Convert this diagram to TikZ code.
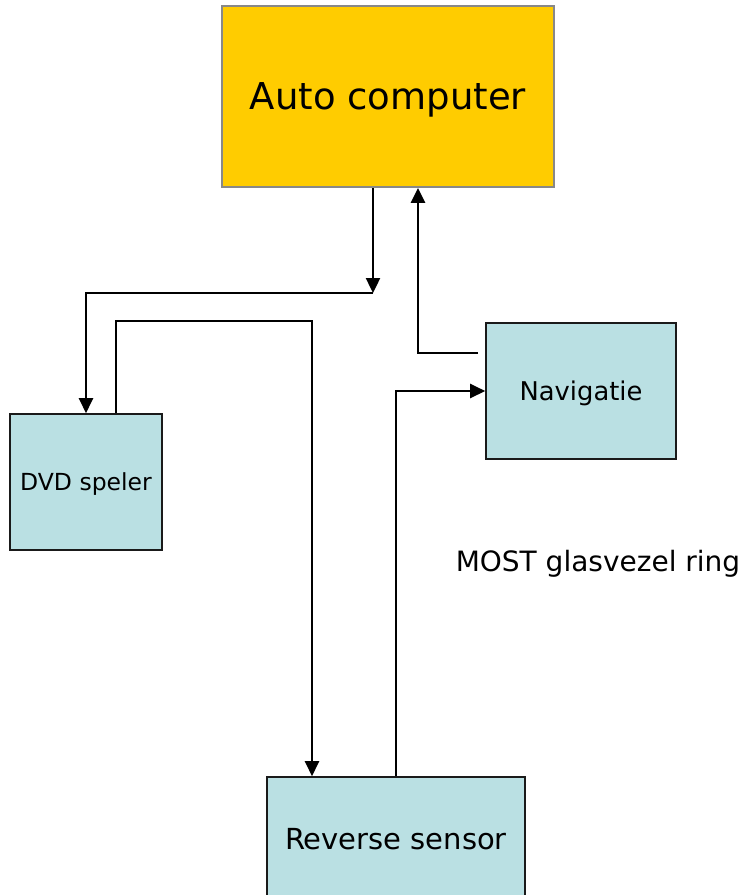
\documentclass[tikz,border=0pt]{standalone}
\usepackage{fontspec}
\setmainfont{DejaVu Sans}
\usetikzlibrary{arrows.meta}
\definecolor{acyellow}{HTML}{FFCC00}
\definecolor{boxblue}{HTML}{BAE0E3}
\definecolor{acborder}{HTML}{888888}
\definecolor{bborder}{HTML}{1A1A1A}
\tikzset{
  acbox/.style={draw=acborder, line width=1.8pt, fill=acyellow, inner sep=0pt, text depth=0pt, minimum width=332pt, minimum height=181pt, font=\fontsize{37}{44}\selectfont},
  bluebox/.style={draw=bborder, line width=1.6pt, fill=boxblue, inner sep=0pt, text depth=0pt},
  arr/.style={line width=2.4pt, -{Triangle[length=15pt,width=14pt]}},
}
\begin{document}
\begin{tikzpicture}[x=1pt,y=-1pt]
\clip (0,0) rectangle (744,895);
\fill[white] (0,0) rectangle (744,895);
\node[acbox] (ac) at (388,96.5) {Auto computer};
\node[bluebox, minimum width=152pt, minimum height=136pt, font=\fontsize{23.5}{28}\selectfont] (dvd) at (86,482) {DVD speler};
\node[bluebox, minimum width=190pt, minimum height=136pt, font=\fontsize{25.8}{31}\selectfont] (nav) at (581,391) {Navigatie};
\node[bluebox, minimum width=258pt, minimum height=124pt, font=\fontsize{29}{35}\selectfont] (rev) at (396,839) {Reverse sensor};
\node[font=\fontsize{28}{34}\selectfont, inner sep=0pt, text depth=0pt] (most) at (598,561) {MOST glasvezel ring};
\coordinate (j) at (373,293);
\draw[arr] ([xshift=-15pt]ac.south) -- (j);
\draw[arr] (j) -| (dvd.north);
\draw[arr] ([xshift=30pt]dvd.north) -- ++(0,-92) -| ([xshift=-84pt]rev.north);
\draw[arr] (rev.north) |- (nav.west);
\draw[arr, shorten <=7pt] ([yshift=38pt]nav.west) -| ([xshift=30pt]ac.south);
\end{tikzpicture}
\end{document}
